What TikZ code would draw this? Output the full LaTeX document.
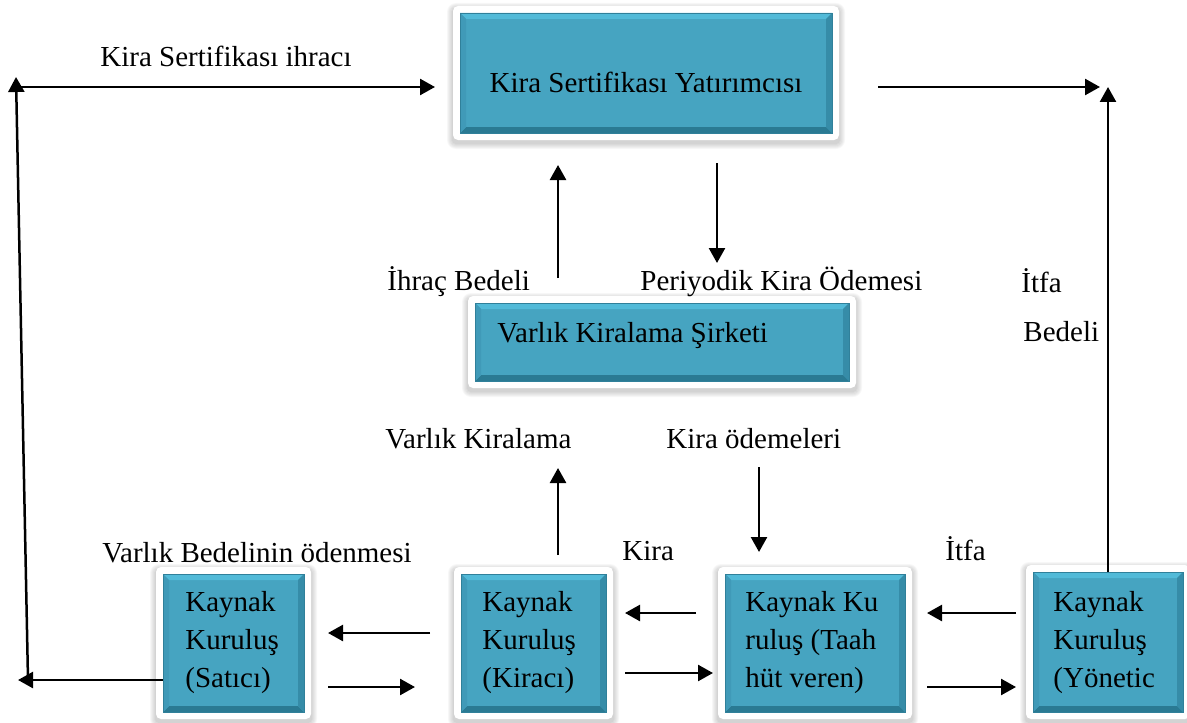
\documentclass[tikz,border=0pt]{standalone}
\usepackage{fontspec}
\setmainfont{Liberation Serif}
\usetikzlibrary{arrows.meta,fit}

\definecolor{tealmid}{RGB}{70,164,193}
\definecolor{teallight}{RGB}{82,186,216}
\definecolor{tealdark}{RGB}{42,122,147}
\definecolor{tealleft}{RGB}{64,154,184}
\definecolor{tealright}{RGB}{54,140,168}
\definecolor{tealedge}{RGB}{48,128,154}

% Teal bevelled box inside a white rounded frame with a soft shadow.
% #1 node name, (#2,#3) upper-left and (#4,#5) lower-right corner of the teal face
\newcommand\bevelbox[5]{%
  \foreach \k in {1,...,6}{%
    \pgfmathsetmacro\rr{(3+\k)*0.5}%
    \fill[black,opacity=0.03,rounded corners=\rr pt]
      ({#2-7-\k},{#3-7-\k+3}) rectangle ({#4+7+\k},{#5+7+\k+3});
  }
  \fill[white,rounded corners=2.5pt] ({#2-7},{#3-7}) rectangle ({#4+7},{#5+7});
  \fill[tealmid] (#2,#3) rectangle (#4,#5);
  \fill[teallight] (#2,#3) -- (#4,#3) -- ({#4-6},{#3+6}) -- ({#2+6},{#3+6}) -- cycle;
  \fill[tealdark] (#2,#5) -- (#4,#5) -- ({#4-6},{#5-6}) -- ({#2+6},{#5-6}) -- cycle;
  \fill[tealleft] (#2,#3) -- ({#2+6},{#3+6}) -- ({#2+6},{#5-6}) -- (#2,#5) -- cycle;
  \fill[tealright] (#4,#3) -- ({#4-6},{#3+6}) -- ({#4-6},{#5-6}) -- (#4,#5) -- cycle;
  \node[fit={(#2,#3) (#4,#5)},inner sep=0pt,draw=tealedge,line width=0.4pt] (#1) {};
}

\tikzset{
  lbl/.style={anchor=base west,inner sep=0pt,font=\fontsize{14.5}{19}\selectfont},
  arr/.style={line width=1.25pt,-{Triangle[length=7.5pt,width=8pt]}}
}

\begin{document}
\begin{tikzpicture}[x=0.5pt,y=-0.5pt]
\useasboundingbox (0,0) rectangle (1187,722);
\clip (0,0) rectangle (1187,722);

% boxes
\bevelbox{yat}{460}{13}{832}{133}
\bevelbox{vks}{475}{303}{849}{381}
\bevelbox{sat}{163}{574}{304}{712}
\bevelbox{kir}{461}{574}{606}{712}
\bevelbox{taa}{725}{574}{905}{712}
\bevelbox{yon}{1033}{572}{1183}{712}

% box texts
\node[lbl,anchor=base] (yat-t) at (646,92) {Kira Sertifikası Yatırımcısı};
\node[lbl] (vks-t) at (497,342) {Varlık Kiralama Şirketi};
\node[lbl] (sat-t) at (185,611) {\parbox[t]{90pt}{\raggedright Kaynak\\Kuruluş\\(Satıcı)}};
\node[lbl] (kir-t) at (482,611) {\parbox[t]{90pt}{\raggedright Kaynak\\Kuruluş\\(Kiracı)}};
\node[lbl] (taa-t) at (745,611) {\parbox[t]{90pt}{\raggedright Kaynak Ku\\ruluş (Taah\\hüt veren)}};
\node[lbl] (yon-t) at (1053,611) {\parbox[t]{90pt}{\raggedright Kaynak\\Kuruluş\\(Yönetic}};

% labels
\node[lbl] (l-ihrac) at (100,67) {Kira Sertifikası ihracı};
\node[lbl] (l-ib) at (387,290) {İhraç Bedeli};
\node[lbl] (l-pko) at (640,290) {Periyodik Kira Ödemesi};
\node[lbl] (l-itfa1) at (1021,292) {İtfa};
\node[lbl] (l-bedeli) at (1023,341) {Bedeli};
\node[lbl] (l-vk) at (385,448) {Varlık Kiralama};
\node[lbl] (l-ko) at (666,448) {Kira ödemeleri};
\node[lbl] (l-vbo) at (102,562) {Varlık Bedelinin ödenmesi};
\node[lbl] (l-kira) at (622,560) {Kira};
\node[lbl] (l-itfa2) at (945,560) {İtfa};

% connector end points
\coordinate (L-bot) at (28,680);
\coordinate (L-top) at (16,77);
\coordinate (L-h) at (16,87);
\coordinate (L-end) at (18,680);
\coordinate (T-in) at (435,87);
\coordinate (R-start) at (878,87);
\coordinate (R-end) at (1100,87);
\coordinate (R-top) at (1108,87);
\coordinate (up1-s) at (558,278);  \coordinate (up1-e) at (558,165);
\coordinate (dn1-s) at (717,163);  \coordinate (dn1-e) at (717,263);
\coordinate (up2-s) at (558,555);  \coordinate (up2-e) at (558,468);
\coordinate (dn2-s) at (759,467);  \coordinate (dn2-e) at (759,552);
\coordinate (a1-s) at (430,633);   \coordinate (a1-e) at (328,633);
\coordinate (a2-s) at (328,687);   \coordinate (a2-e) at (415,687);
\coordinate (a3-s) at (696,613);   \coordinate (a3-e) at (625,613);
\coordinate (a4-s) at (625,673);   \coordinate (a4-e) at (713,673);
\coordinate (a5-s) at (1016,613);  \coordinate (a5-e) at (927,613);
\coordinate (a6-s) at (927,687);   \coordinate (a6-e) at (1016,687);

% outer loop
\draw[arr] (sat.west |- L-bot) -- (L-end);
\draw[arr] (L-bot) -- (L-top);
\draw[arr] (L-h) -- (T-in);
\draw[arr] (R-start) -- (R-end);
\draw[arr] (R-top |- yon.north) -- (R-top);

% vertical flows
\draw[arr] (up1-s) -- (up1-e);
\draw[arr] (dn1-s) -- (dn1-e);
\draw[arr] (up2-s) -- (up2-e);
\draw[arr] (dn2-s) -- (dn2-e);

% flows between the bottom boxes
\draw[arr] (a1-s) -- (a1-e);
\draw[arr] (a2-s) -- (a2-e);
\draw[arr] (a3-s) -- (a3-e);
\draw[arr] (a4-s) -- (a4-e);
\draw[arr] (a5-s) -- (a5-e);
\draw[arr] (a6-s) -- (a6-e);
\end{tikzpicture}
\end{document}
